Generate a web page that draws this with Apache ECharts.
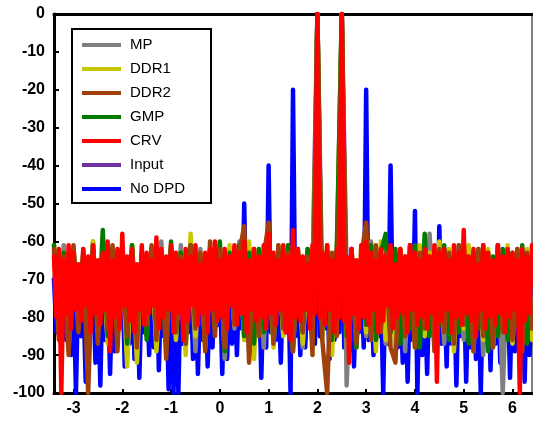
<!DOCTYPE html>
<html>
<head>
<meta charset="utf-8">
<script src="https://cdn.jsdelivr.net/npm/echarts@6/dist/echarts.min.js"></script>
<style>
  html, body { margin: 0; padding: 0; background: #fff; }
  #chart { width: 533px; height: 423px; }
</style>
</head>
<body>
<div id="chart"></div>
<script>
// frequency grids (fine for CRV / No DPD, coarse for the others)
const fineStart = -3.4, fineStep = 0.05
const coarseStart = -3.4, coarseStep = 0.1

const xTicks = [-3, -2, -1, 0, 1, 2, 3, 4, 5, 6]

const legendNames = ['MP', 'DDR1', 'DDR2', 'GMP', 'CRV', 'Input', 'No DPD']

// CRV, fine grid
const crv = [
  -64, -80, -62, -100, -65, -79, -61, -83, -63, -78,
  -66, -81, -62, -77, -64, -84, -61, -79, -65, -82,
  -63, -78, -60, -89, -65, -80, -62, -83, -58, -77,
  -64, -81, -62, -84, -66, -78, -61, -82, -63, -79,
  -65, -77, -59, -83, -62, -80, -64, -78, -61, -84,
  -63, -79, -65, -86, -62, -81, -64, -77, -61, -82,
  -66, -79, -63, -84, -62, -78, -60, -81, -65, -80,
  -62, -83, -64, -77, -61, -82, -63, -79, -60, -84,
  -65, -78, -62, -81, -64, -80, -61, -83, -58, -79,
  -63, -82, -65, -78, -61, -84, -64, -86, -57, -80,
  -62, -81, -64, -78, -66, -83, -61, -79, 0, -80,
  -63, -82, -61, -78, -65, -84, -62, -80, 0, -81,
  -64, -92, -62, -79, -65, -83, -61, -80, -60, -82,
  -63, -78, -65, -84, -62, -81, -64, -77, -61, -83,
  -66, -80, -62, -79, -64, -84, -61, -78, -63, -82,
  -65, -80, -62, -83, -64, -79, -61, -97, -63, -81,
  -62, -78, -65, -84, -61, -80, -63, -82, -57, -79,
  -64, -81, -62, -85, -66, -78, -61, -83, -63, -80,
  -65, -82, -61, -79, -64, -84, -62, -80, -63, -78,
  -65, -100, -62, -81, -64, -79, -61
]

// No DPD, fine grid
const noDpd = [
  -70, -84, -68, -88, -72, -86, -67, -90, -71, -100,
  -69, -85, -73, -97, -68, -83, -70, -92, -72, -98,
  -67, -86, -71, -95, -69, -89, -73, -82, -68, -93,
  -72, -87, -70, -91, -68, -96, -71, -84, -69, -90,
  -73, -88, -67, -94, -70, -85, -72, -99, -68, -100,
  -71, -100, -69, -87, -72, -84, -70, -91, -68, -95,
  -73, -86, -69, -93, -71, -88, -67, -82, -70, -95,
  -72, -91, -68, -87, -71, -90, -69, -83, -50, -86,
  -70, -89, -72, -85, -68, -96, -71, -88, -40, -84,
  -69, -86, -72, -92, -70, -84, -68, -100, -20, -85,
  -71, -90, -69, -88, -73, -82, -70, -87, 0, -85,
  -68, -83, -72, -91, -69, -86, -71, -84, 0, -88,
  -70, -89, -68, -93, -72, -84, -69, -88, -20, -86,
  -71, -90, -69, -85, -72, -100, -68, -87, -40, -84,
  -70, -88, -73, -92, -69, -97, -71, -86, -52, -100,
  -68, -90, -72, -95, -70, -84, -69, -89, -56, -87,
  -71, -93, -68, -87, -72, -98, -70, -85, -69, -97,
  -71, -88, -68, -91, -72, -100, -69, -84, -70, -94,
  -68, -87, -72, -92, -69, -83, -71, -96, -70, -89,
  -68, -85, -72, -97, -69, -90, -71
]

// coarse grid series
const mp = [
  -63, -82, -61, -85, -64, -80, -62, -88, -60, -83,
  -64, -86, -62, -81, -63, -90, -61, -84, -65, -80,
  -62, -87, -60, -83, -64, -85, -61, -82, -63, -89,
  -62, -84, -64, -80, -61, -91, -63, -83, -60, -86,
  -62, -82, -64, -88, -58, -81, -63, -85, -61, -84,
  -63, -88, -62, -82, 0, -84, -61, -86, -64, 0,
  -98, -62, -83, -64, -85, -60, -81, -63, -87, -62,
  -84, -64, -89, -61, -82, -63, -85, -58, -80, -62,
  -87, -63, -83, -61, -86, -64, -81, -62, -90, -63,
  -84, -61, -100, -64, -82, -62, -85, -63, -80
]

const ddr1 = [
  -61, -84, -63, -88, -62, -81, -64, -86, -60, -83,
  -63, -87, -62, -82, -64, -93, -61, -92, -63, -85,
  -62, -89, -64, -84, -61, -86, -63, -90, -58, -85,
  -63, -88, -62, -83, -64, -87, -61, -82, -63, -86,
  -60, -91, -62, -84, -64, -88, -61, -85, -63, -89,
  -62, -87, -64, -83, 0, -86, -61, -90, -63, 0,
  -85, -62, -88, -61, -84, -63, -89, -60, -86, -64,
  -90, -62, -83, -64, -88, -61, -85, -63, -87, -60,
  -84, -62, -89, -64, -83, -61, -89, -63, -86, -62,
  -88, -64, -82, -61, -87, -63, -84, -62, -86
]

const ddr2 = [
  -62, -86, -64, -90, -61, -84, -63, -100, -62, -87,
  -64, -83, -61, -89, -63, -85, -62, -88, -64, -82,
  -61, -86, -63, -91, -62, -84, -64, -87, -61, -83,
  -63, -89, -60, -85, -62, -88, -64, -82, -63, -56,
  -92, -62, -85, -64, -55, -87, -61, -83, -63, -89,
  -62, -84, -64, -90, 0, -86, -100, -63, -85, 0,
  -83, -62, -87, -64, -55, -86, -61, -84, -63, -88,
  -92, -62, -85, -61, -88, -63, -83, -64, -89, -62,
  -84, -63, -87, -61, -82, -64, -89, -62, -85, -63,
  -88, -61, -84, -64, -86, -62, -89, -63, -83
]

const gmp = [
  -61, -83, -63, -86, -62, -80, -64, -88, -61, -84,
  -57, -85, -62, -81, -64, -87, -61, -83, -63, -86,
  -62, -82, -64, -88, -60, -84, -63, -87, -61, -82,
  -64, -86, -62, -83, -60, -89, -63, -81, -61, -85,
  -63, -87, -62, -84, -60, -86, -64, -82, -61, -88,
  -63, -84, -62, -87, 0, -83, -64, -86, -61, 0,
  -85, -62, -88, -64, -82, -61, -86, -63, -58, -84,
  -62, -87, -64, -83, -61, -88, -58, -85, -63, -82,
  -61, -86, -64, -84, -62, -87, -63, -83, -61, -89,
  -64, -85, -62, -86, -63, -82, -61, -87, -64
]

const input = [
  -70, -74, -68, -73, -71, -75, -69, -72, -74, -70,
  -73, -68, -75, -71, -69, -74, -72, -70, -73, -68,
  -72, -75, -69, -71, -74, -70, -73, -68, -72, -75,
  -70, -73, -69, -74, -71, -68, -75, -72, -70, -73,
  -71, -74, -68, -72, -70, -75, -69, -73, -71, -74,
  -72, -69, -73, -70, 0, -74, -71, -68, -73, 0,
  -70, -74, -72, -69, -73, -71, -75, -68, -72, -70,
  -74, -71, -69, -73, -72, -75, -70, -68, -74, -71,
  -73, -69, -72, -75, -70, -74, -68, -71, -73, -72,
  -70, -74, -69, -73, -71, -75, -72, -70, -73
]

function toPairs(values, start, step) {
  return values.map((v, i) => [+(start + i * step).toFixed(3), v])
}

const font = 'Liberation Sans, Arial, sans-serif'

const chart = echarts.init(document.getElementById('chart'), null, { renderer: 'canvas' })

function line(name, color, values, start, step) {
  return {
    name: name,
    type: 'line',
    showSymbol: false,
    symbol: 'none',
    animation: false,
    data: toPairs(values, start, step),
    itemStyle: { color: color },
    lineStyle: { color: color, width: 4.5, cap: 'round', join: 'round' }
  }
}

chart.setOption({
  animation: false,
  grid: {
    left: 54, right: 1, top: 14, bottom: 30,
    show: true, borderColor: '#000', borderWidth: 1
  },
  legend: {
    data: legendNames,
    orient: 'vertical',
    left: 72,
    top: 29,
    icon: 'rect',
    itemWidth: 39,
    itemHeight: 4,
    itemGap: 8,
    padding: [8, 26, 6, 10],
    borderColor: '#000',
    borderWidth: 2,
    backgroundColor: '#fff',
    selectedMode: false,
    textStyle: { fontFamily: font, fontSize: 15, color: '#000', lineHeight: 16, padding: [0, 0, 0, 4] }
  },
  xAxis: [{
    type: 'value',
    min: -3.4,
    max: 6.4,
    axisLine: { onZero: false, lineStyle: { color: '#000', width: 3 } },
    axisTick: { inside: true, length: 4, customValues: xTicks, lineStyle: { color: '#000', width: 2 } },
    axisLabel: { customValues: xTicks, margin: 8, fontFamily: font, fontSize: 16, fontWeight: 'bold', color: '#000' },
    splitLine: { show: false }
  }, {
    type: 'value',
    position: 'top',
    min: -3.4,
    max: 6.4,
    axisLine: { onZero: false, lineStyle: { color: '#000', width: 3 } },
    axisTick: { show: false },
    axisLabel: { show: false },
    splitLine: { show: false }
  }],
  yAxis: [{
    type: 'value',
    min: -100,
    max: 0,
    interval: 10,
    axisLine: { show: true, onZero: false, lineStyle: { color: '#000', width: 3 } },
    axisTick: { show: true, inside: true, length: 5, lineStyle: { color: '#000', width: 2 } },
    axisLabel: { margin: 9, fontFamily: font, fontSize: 16, fontWeight: 'bold', color: '#000' },
    splitLine: { show: false }
  }],
  // drawing order: later series sit on top
  series: [
    line('Input', '#7030a0', input, coarseStart, coarseStep),
    line('No DPD', '#0000ff', noDpd, fineStart, fineStep),
    line('MP', '#808080', mp, coarseStart, coarseStep),
    line('DDR1', '#c8c800', ddr1, coarseStart, coarseStep),
    line('GMP', '#007a00', gmp, coarseStart, coarseStep),
    line('DDR2', '#a0400a', ddr2, coarseStart, coarseStep),
    line('CRV', '#ff0000', crv, fineStart, fineStep)
  ]
})
</script>
</body>
</html>
